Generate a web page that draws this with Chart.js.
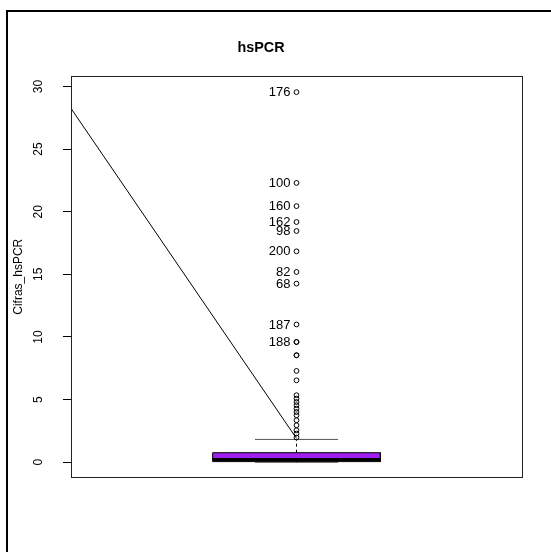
<!DOCTYPE html>
<html>
<head>
<meta charset="utf-8">
<script src="https://cdn.jsdelivr.net/npm/chart.js@4"></script>
<style>
  html, body { margin: 0; padding: 0; background: #ffffff; }
  #wrap { position: relative; width: 551px; height: 552px; overflow: hidden; }
  #frame { position: absolute; left: 6px; top: 10px; width: 600px; height: 600px;
           border-left: 2px solid #000; border-top: 2px solid #000; }
  canvas { position: absolute; left: 0; top: 0; }
</style>
</head>
<body>
<div id="wrap">
  <div id="frame"></div>
  <canvas id="c" width="551" height="552"></canvas>
</div>
<script>
// ---- data ----
const chartTitle = 'hsPCR';
const yAxisTitle = 'Cifras_hsPCR';
const yTicks = [0, 5, 10, 15, 20, 25, 30];
const boxQuartiles = [0.05, 0.22, 0.76];   // q1, median, q3
const whiskerEnds = [0.0, 1.82];           // lower, upper
const outlierValues = [29.55, 22.3, 20.45, 19.18, 18.46, 16.84, 15.19, 14.26, 11.0, 9.6, 9.6,
                       8.54, 8.54, 7.29, 6.54, 5.35, 5.08, 4.81, 4.55, 4.28, 4.01, 3.75, 3.35,
                       2.95, 2.55, 2.29, 1.97];
const outlierLabels = ['176', '100', '160', '162', '98', '200', '82', '68', '187', '188', '',
                       '', '', '', '', '', '', '', '', '', '', '', '',
                       '', '', '', ''];
const lineX = [0.5, 1.0];
const lineY = [28.25, 1.9];

// ---- geometry / style constants ----
const CENTER = 1;
const BOX_HALF = 0.186;
const CAP_HALF = 0.092;
const Y_MIN = -1.18, Y_MAX = 30.8;
const FONT = '"Liberation Sans", Arial, Helvetica, sans-serif';

const [q1, med, q3] = boxQuartiles;
const [wLo, wHi] = whiskerEnds;

const seg = (pts, extra) => Object.assign({
  data: pts, showLine: true, pointRadius: 0, pointHoverRadius: 0,
  borderColor: '#000', borderWidth: 1, fill: false, tension: 0
}, extra);

const datasets = [
  seg([{x: CENTER - BOX_HALF, y: q3}, {x: CENTER + BOX_HALF, y: q3}],
      {fill: {value: q1}, backgroundColor: '#A020F0', borderWidth: 0, order: 10}),
  seg([{x: CENTER - BOX_HALF, y: q1}, {x: CENTER - BOX_HALF, y: q3}, {x: CENTER + BOX_HALF, y: q3},
       {x: CENTER + BOX_HALF, y: q1}, {x: CENTER - BOX_HALF, y: q1}], {order: 9}),
  seg([{x: CENTER - BOX_HALF, y: med}, {x: CENTER + BOX_HALF, y: med}], {borderWidth: 3, order: 8}),
  seg([{x: CENTER, y: q3}, {x: CENTER, y: wHi}], {borderDash: [3, 3], order: 7}),
  seg([{x: CENTER, y: wLo}, {x: CENTER, y: q1}], {borderDash: [3, 3], order: 7}),
  seg([{x: CENTER - CAP_HALF, y: wHi}, {x: CENTER + CAP_HALF, y: wHi}], {borderColor: '#555', order: 6}),
  seg([{x: CENTER - CAP_HALF, y: wLo}, {x: CENTER + CAP_HALF, y: wLo}], {borderColor: '#555', order: 11}),
  seg(lineX.map((x, i) => ({x, y: lineY[i]})), {order: 5}),
  {
    data: outlierValues.map(v => ({x: CENTER, y: v})),
    showLine: false, pointRadius: 2.4, pointHoverRadius: 2.4,
    pointBorderColor: '#000', pointBackgroundColor: 'rgba(0,0,0,0)', pointBorderWidth: 1, order: 4
  }
];

const framePlugin = {
  id: 'framePlugin',
  afterDatasetsDraw(chart) {
    const {ctx, chartArea: a, scales} = chart;
    ctx.save();
    ctx.strokeStyle = '#222';
    ctx.lineWidth = 1;
    ctx.strokeRect(Math.round(a.left) + 0.5, Math.round(a.top) + 0.5,
                   Math.round(a.right - a.left), Math.round(a.bottom - a.top));
    // outlier id labels
    ctx.fillStyle = '#000';
    ctx.font = '13px ' + FONT;
    ctx.textAlign = 'right';
    ctx.textBaseline = 'middle';
    const xp = scales.x.getPixelForValue(CENTER);
    outlierValues.forEach((v, i) => {
      if (outlierLabels[i]) ctx.fillText(outlierLabels[i], xp - 6, scales.y.getPixelForValue(v) + 0.5);
    });
    ctx.restore();
  }
};

new Chart(document.getElementById('c'), {
  type: 'scatter',
  data: { datasets },
  plugins: [framePlugin],
  options: {
    responsive: false,
    animation: false,
    events: [],
    layout: { padding: { left: 0, right: 29, top: 0, bottom: 75 } },
    plugins: {
      legend: { display: false },
      tooltip: { enabled: false },
      title: {
        display: true, text: chartTitle, color: '#000',
        font: { family: FONT, size: 14.4, weight: 'bold' },
        padding: { top: 39.6, bottom: 19.6 }
      }
    },
    scales: {
      x: { type: 'linear', min: 0.5, max: 1.5, display: false },
      y: {
        type: 'linear', min: Y_MIN, max: Y_MAX,
        afterFit(s) { s.width = 71; },
        afterBuildTicks(s) { s.ticks = yTicks.map(v => ({value: v})); },
        ticks: {
          color: '#000', font: { family: FONT, size: 12 },
          minRotation: 90, maxRotation: 90, crossAlign: 'center', padding: 18,
          includeBounds: false, autoSkip: false
        },
        grid: { drawOnChartArea: false, color: '#000', tickLength: 8, tickWidth: 1 },
        border: { display: false },
        title: {
          display: true, text: yAxisTitle, color: '#000',
          font: { family: FONT, size: 12 }, padding: { top: 11, bottom: 0 }
        }
      }
    }
  }
});
</script>
</body>
</html>
